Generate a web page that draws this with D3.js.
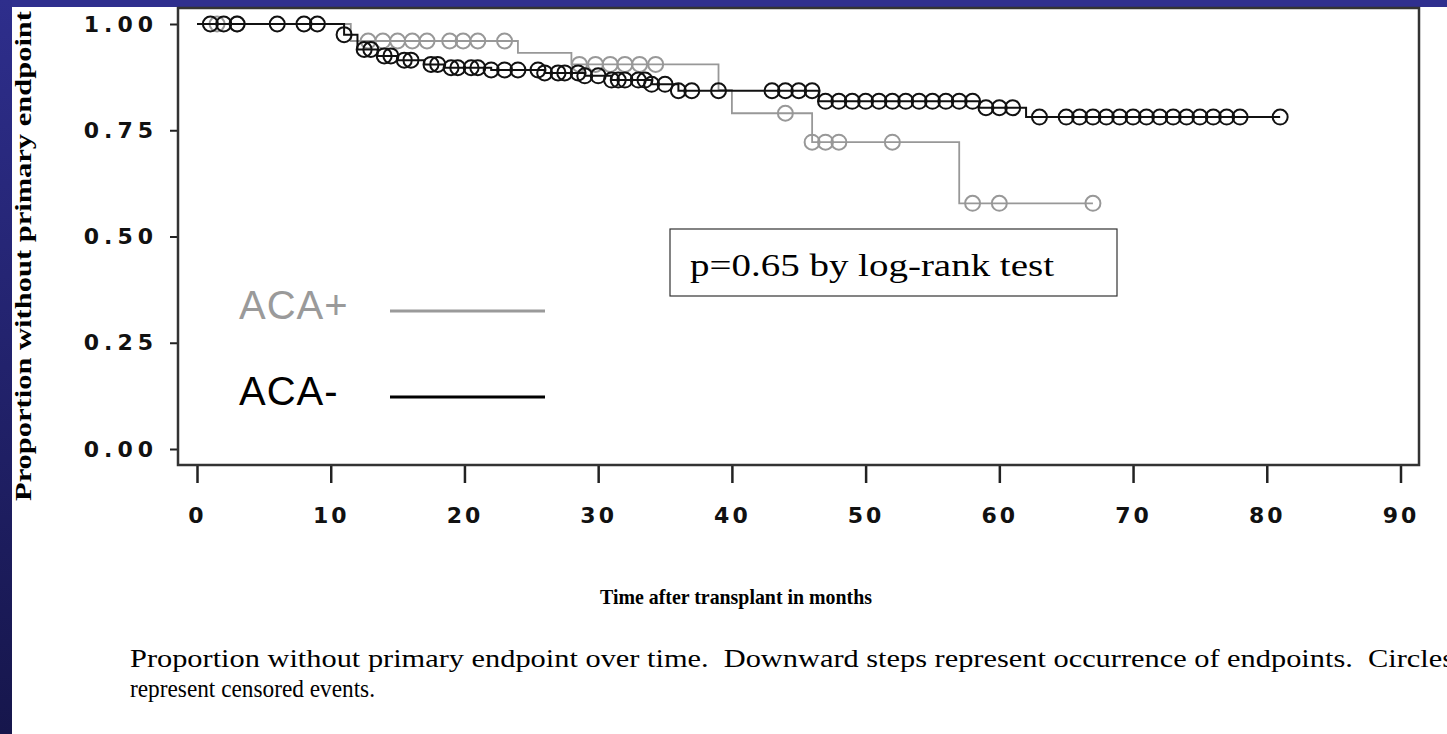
<!DOCTYPE html>
<html>
<head>
<meta charset="utf-8">
<script src="https://cdn.jsdelivr.net/npm/d3@7"></script>
<style>
  html, body { margin: 0; padding: 0; background: #ffffff; overflow: hidden; }
  svg { display: block; }
</style>
</head>
<body>
<svg id="chart" width="1447" height="734"></svg>
<script>
// ---------- data ----------
const xTicks = [0, 10, 20, 30, 40, 50, 60, 70, 80, 90];
const yTicks = [0, 0.25, 0.5, 0.75, 1.0];

// ACA- (black): step times and survival after the step
const acaNegStepTimes = [0, 11, 12, 13.5, 15, 17, 18.5, 22, 26, 29, 31, 34, 36, 46.5, 58.5, 62];
const acaNegStepVals  = [1.0, 0.975, 0.94, 0.925, 0.915, 0.905, 0.897, 0.892, 0.885, 0.878, 0.868, 0.858, 0.843, 0.818, 0.803, 0.781];
const acaNegEnd = 81;
const acaNegCensored = [1, 2, 3, 6, 8, 9, 11, 12.5, 13, 14, 14.5, 15.5, 16, 17.5, 18, 19, 19.5, 20.5, 21, 22, 23, 24,
  25.5, 26, 27, 27.5, 28.5, 29, 30, 31, 31.5, 32, 33, 33.5, 34, 35, 36, 37, 39, 43, 44, 45, 46, 47, 48, 49, 50, 51,
  52, 53, 54, 55, 56, 57, 58, 59, 60, 61, 63, 65, 66, 67, 68, 69, 70, 71, 72, 73, 74, 75, 76, 77, 78, 81];

// ACA+ (grey)
const acaPosStepTimes = [0, 11.5, 24, 28, 39, 40, 46, 57];
const acaPosStepVals  = [1.0, 0.96, 0.932, 0.905, 0.845, 0.79, 0.722, 0.578];
const acaPosEnd = 67;
const acaPosCensored = [1.5, 3, 12.8, 13.9, 15, 16.1, 17.2, 18.9, 19.9, 21, 23, 28.6, 29.8, 30.9, 32, 33.1, 34.3,
  44, 46, 47, 48, 52, 58, 60, 67];

const legendLabels = ["ACA+", "ACA-"];
const pText = "p=0.65 by log-rank test";
const yTitle = "Proportion without primary endpoint";
const xTitle = "Time after transplant in months";
const caption1 = "Proportion without primary endpoint over time.  Downward steps represent occurrence of endpoints.  Circles";
const caption2 = "represent censored events.";

// ---------- layout ----------
const svg = d3.select("#chart");
const W = 1447, H = 734;

const grad = svg.append("defs").append("linearGradient")
  .attr("id", "sideGrad").attr("x1", 0).attr("y1", 0).attr("x2", 0).attr("y2", 1);
grad.append("stop").attr("offset", "0%").attr("stop-color", "#2e2e8c");
grad.append("stop").attr("offset", "100%").attr("stop-color", "#16164c");
svg.append("rect").attr("x", 0).attr("y", 0).attr("width", W).attr("height", H).attr("fill", "#ffffff");
svg.append("rect").attr("x", 0).attr("y", 0).attr("width", W).attr("height", 7).attr("fill", "#2f2f8e");
svg.append("rect").attr("x", 0).attr("y", 0).attr("width", 12).attr("height", H).attr("fill", "url(#sideGrad)");

const x = d3.scaleLinear().domain([0, 90]).range([197, 1400.5]);
const y = d3.scaleLinear().domain([0, 1]).range([449, 24]);

const frame = { x0: 178, y0: 8, x1: 1419, y1: 465 };

// axes
const yAxis = d3.axisLeft(y).tickValues(yTicks).tickFormat(d3.format(".2f")).tickSize(8).tickPadding(12);
const gy = svg.append("g").attr("transform", `translate(${frame.x0},0)`).call(yAxis);
gy.select(".domain").remove();
gy.selectAll(".tick line").attr("stroke", "#222").attr("stroke-width", 2);
gy.selectAll(".tick text")
  .attr("font-family", "DejaVu Sans, sans-serif").attr("font-weight", "bold")
  .attr("font-size", 22).attr("letter-spacing", 5).attr("fill", "#111");

const xAxis = d3.axisBottom(x).tickValues(xTicks).tickFormat(d3.format("d")).tickSize(18).tickPadding(24);
const gx = svg.append("g").attr("transform", `translate(0,${frame.y1})`).call(xAxis);
gx.select(".domain").remove();
gx.selectAll(".tick line").attr("stroke", "#222").attr("stroke-width", 2.5);
gx.selectAll(".tick text")
  .attr("font-family", "DejaVu Sans, sans-serif").attr("font-weight", "bold")
  .attr("font-size", 22).attr("letter-spacing", 3).attr("fill", "#111");

// plot frame
svg.append("rect")
  .attr("x", frame.x0).attr("y", frame.y0)
  .attr("width", frame.x1 - frame.x0).attr("height", frame.y1 - frame.y0)
  .attr("fill", "none").attr("stroke", "#333").attr("stroke-width", 2.5);

// ---------- curves ----------
function stepValue(times, vals, t) {
  let v = vals[0];
  for (let i = 0; i < times.length; i++) if (times[i] <= t) v = vals[i];
  return v;
}
function buildPts(times, vals, end) {
  const pts = times.map((t, i) => [t, vals[i]]);
  pts.push([end, vals[vals.length - 1]]);
  return pts;
}
const line = d3.line().x(d => x(d[0])).y(d => y(d[1])).curve(d3.curveStepAfter);

const series = [
  { times: acaPosStepTimes, vals: acaPosStepVals, end: acaPosEnd, cens: acaPosCensored, color: "#989898", w: 1.8 },
  { times: acaNegStepTimes, vals: acaNegStepVals, end: acaNegEnd, cens: acaNegCensored, color: "#111111", w: 2 }
];

series.forEach(s => {
  const g = svg.append("g");
  g.append("path")
    .datum(buildPts(s.times, s.vals, s.end))
    .attr("d", line)
    .attr("fill", "none").attr("stroke", s.color).attr("stroke-width", s.w);
  g.selectAll("circle").data(s.cens).enter().append("circle")
    .attr("cx", d => x(d))
    .attr("cy", d => y(stepValue(s.times, s.vals, d)))
    .attr("r", 7.5)
    .attr("fill", "none").attr("stroke", s.color).attr("stroke-width", 2);
});

// ---------- legend ----------
const legendColors = ["#9a9a9a", "#000000"];
const legendY = [311, 397];
legendLabels.forEach((lab, i) => {
  svg.append("text").attr("x", 239).attr("y", legendY[i] + 8)
    .attr("font-family", "Liberation Sans, Arial, sans-serif").attr("font-size", 40)
    .attr("letter-spacing", 1)
    .attr("fill", legendColors[i]).text(lab);
  svg.append("line").attr("x1", 390).attr("x2", 545)
    .attr("y1", legendY[i]).attr("y2", legendY[i])
    .attr("stroke", legendColors[i]).attr("stroke-width", 3);
});

// ---------- p-value box ----------
svg.append("rect").attr("x", 670).attr("y", 229).attr("width", 447).attr("height", 67)
  .attr("fill", "#ffffff").attr("stroke", "#333").attr("stroke-width", 1.2);
svg.append("text").attr("x", 690).attr("y", 276)
  .attr("font-family", "Liberation Serif, Times New Roman, serif").attr("font-size", 31)
  .attr("textLength", 364).attr("lengthAdjust", "spacingAndGlyphs")
  .attr("fill", "#000").text(pText);

// ---------- titles ----------
svg.append("text")
  .attr("transform", "translate(31,256) rotate(-90)")
  .attr("text-anchor", "middle")
  .attr("font-family", "Liberation Serif, Times New Roman, serif").attr("font-weight", "bold")
  .attr("font-size", 23)
  .attr("textLength", 490).attr("lengthAdjust", "spacingAndGlyphs")
  .attr("fill", "#000").text(yTitle);

svg.append("text").attr("x", 736).attr("y", 604)
  .attr("text-anchor", "middle")
  .attr("font-family", "Liberation Serif, Times New Roman, serif").attr("font-weight", "bold")
  .attr("font-size", 22)
  .attr("textLength", 272).attr("lengthAdjust", "spacingAndGlyphs")
  .attr("fill", "#000").text(xTitle);

// ---------- caption ----------
svg.append("text").attr("x", 130).attr("y", 667)
  .attr("font-family", "Liberation Serif, Times New Roman, serif").attr("font-size", 25)
  .attr("textLength", 1324).attr("lengthAdjust", "spacingAndGlyphs")
  .style("white-space", "pre").attr("fill", "#000").text(caption1);
svg.append("text").attr("x", 130).attr("y", 697)
  .attr("font-family", "Liberation Serif, Times New Roman, serif").attr("font-size", 25)
  .attr("textLength", 245).attr("lengthAdjust", "spacingAndGlyphs")
  .style("white-space", "pre").attr("fill", "#000").text(caption2);
</script>
</body>
</html>
